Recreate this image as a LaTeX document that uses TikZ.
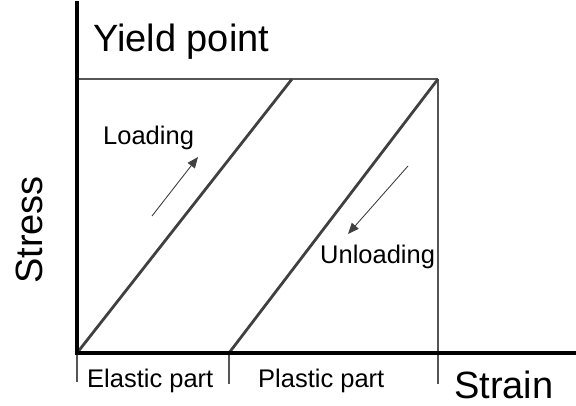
\documentclass[tikz,border=0pt]{standalone}
\usepackage{fontspec}
\setmainfont{Liberation Sans}
\usetikzlibrary{arrows.meta,positioning}
\definecolor{ssLine}{HTML}{404040}
\definecolor{ssThin}{HTML}{555555}
\tikzset{
  axisline/.style={line width=4.5pt,black},
  pathline/.style={line width=2.8pt,ssLine},
  guideline/.style={line width=1.8pt,ssThin},
  tickline/.style={line width=1.2pt,ssThin},
  hintarrow/.style={-{Triangle[length=11pt,width=9pt]},line width=0.9pt,ssLine},
  bigtext/.style={inner sep=0pt,font=\fontsize{38}{45}\selectfont},
  smalltext/.style={inner sep=0pt,font=\fontsize{25.5}{30}\selectfont}
}
\begin{document}
\begin{tikzpicture}[x=1pt,y=-1pt]
  \useasboundingbox (0,0) rectangle (576,406);
  % key points of the curve
  \coordinate (o) at (77,353);
  \coordinate (top) at (77,1);
  \coordinate (xend) at (576,353);
  \coordinate (yl) at (77,79);
  \coordinate (y1) at (292,79);
  \coordinate (y2) at (438,79);
  \coordinate (p0) at (229,353);
  \coordinate (t0) at (77,382);
  \coordinate (t1) at (229,384);
  \coordinate (t2) at (438,384);
  % guide lines and ticks
  \draw[guideline] (yl) -- (y2);
  \draw[guideline] (y2) -- (t2);
  \draw[tickline] (o) -- (t0);
  \draw[tickline] (p0) -- (t1);
  % loading and unloading
  \draw[pathline] (o) -- (y1);
  \draw[pathline] (p0) -- (y2);
  % axes
  \draw[axisline] (top) -- (o |- xend) -- (xend);
  % hints
  \coordinate (la) at (152,216);
  \coordinate (lb) at (198,157);
  \coordinate (ua) at (408,166);
  \coordinate (ub) at (348,234);
  \draw[hintarrow] (la) -- (lb);
  \draw[hintarrow] (ua) -- (ub);
  % labels
  \node[bigtext, anchor=base west] (yield) at (93,52) {Yield point};
  \node[bigtext, anchor=base west] (strain) at (454,398) {Strain};
  \node[bigtext, anchor=base, rotate=90] (stress) at (42,230) {Stress};
  \node[smalltext, anchor=base west] (loading) at (103,145) {Loading};
  \node[smalltext, anchor=base west] (unloading) at (320,264) {Unloading};
  \node[smalltext, anchor=base west] (elastic) at (87,387) {Elastic part};
  \node[smalltext, anchor=base west] (plastic) at (258,387) {Plastic part};
\end{tikzpicture}
\end{document}
